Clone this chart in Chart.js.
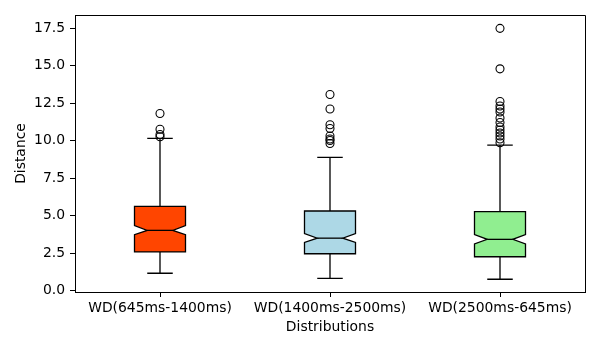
<!DOCTYPE html>
<html>
<head>
<meta charset="utf-8">
<script src="https://cdn.jsdelivr.net/npm/chart.js@4"></script>
<style>
  html, body { margin: 0; padding: 0; background: #ffffff; }
  canvas { display: block; }
</style>
</head>
<body>
<canvas id="chart" width="600" height="350"></canvas>
<script>
// Categories and per-group box statistics
const categories = ['WD(645ms-1400ms)', 'WD(1400ms-2500ms)', 'WD(2500ms-645ms)'];
const whiskerLow  = [1.15, 0.81, 0.75];
const q1          = [2.57, 2.45, 2.25];
const notchLow    = [3.72, 3.21, 3.10];
const median      = [4.01, 3.49, 3.41];
const notchHigh   = [4.33, 3.80, 3.73];
const q3          = [5.61, 5.30, 5.26];
const whiskerHigh = [10.15, 8.88, 9.70];
const outliers = [
  [11.80, 10.75, 10.40, 10.25],
  [13.07, 12.10, 11.05, 10.80, 10.30, 10.10, 10.00, 9.80],
  [17.48, 14.78, 12.60, 12.30, 12.10, 11.90, 11.50, 11.20, 10.90, 10.70, 10.50, 10.30, 10.10, 9.85]
];
const fillColors = ['#ff4500', '#add8e6', '#90ee90'];
const yTicks = [0, 2.5, 5, 7.5, 10, 12.5, 15, 17.5];

const FONT = { family: 'DejaVu Sans', size: 13.9 };
const BOX_WIDTH = 0.3;
const LINE_W = 1.3;

const flierPoints = [];
outliers.forEach((vals, i) => vals.forEach(v => flierPoints.push({ x: i + 1, y: v })));

// Notched boxes, whiskers and caps drawn through the chart scales
const boxPlotPlugin = {
  id: 'boxPlot',
  beforeDatasetsDraw(chart) {
    const { ctx, scales: { x, y } } = chart;
    ctx.save();
    ctx.lineWidth = LINE_W;
    ctx.strokeStyle = '#000000';
    ctx.lineJoin = 'miter';
    categories.forEach((_, i) => {
      const pos = i + 1;
      const bl = x.getPixelForValue(pos - BOX_WIDTH / 2);
      const br = x.getPixelForValue(pos + BOX_WIDTH / 2);
      const nl = x.getPixelForValue(pos - BOX_WIDTH / 4);
      const nr = x.getPixelForValue(pos + BOX_WIDTH / 4);
      const cx = x.getPixelForValue(pos);
      const cl = x.getPixelForValue(pos - BOX_WIDTH / 4);
      const cr = x.getPixelForValue(pos + BOX_WIDTH / 4);
      const py = v => y.getPixelForValue(v);

      // whiskers
      ctx.beginPath();
      ctx.moveTo(cx, py(q1[i])); ctx.lineTo(cx, py(whiskerLow[i]));
      ctx.moveTo(cx, py(q3[i])); ctx.lineTo(cx, py(whiskerHigh[i]));
      // caps
      ctx.moveTo(cl, py(whiskerLow[i])); ctx.lineTo(cr, py(whiskerLow[i]));
      ctx.moveTo(cl, py(whiskerHigh[i])); ctx.lineTo(cr, py(whiskerHigh[i]));
      ctx.stroke();

      // notched box
      ctx.beginPath();
      ctx.moveTo(bl, py(q1[i]));
      ctx.lineTo(br, py(q1[i]));
      ctx.lineTo(br, py(notchLow[i]));
      ctx.lineTo(nr, py(median[i]));
      ctx.lineTo(br, py(notchHigh[i]));
      ctx.lineTo(br, py(q3[i]));
      ctx.lineTo(bl, py(q3[i]));
      ctx.lineTo(bl, py(notchHigh[i]));
      ctx.lineTo(nl, py(median[i]));
      ctx.lineTo(bl, py(notchLow[i]));
      ctx.closePath();
      ctx.fillStyle = fillColors[i];
      ctx.fill();
      ctx.stroke();

      // median
      ctx.beginPath();
      ctx.moveTo(nl, py(median[i]));
      ctx.lineTo(nr, py(median[i]));
      ctx.stroke();
    });
    ctx.restore();
  },
  afterDraw(chart) {
    // top and right frame lines
    const { ctx, chartArea: a } = chart;
    ctx.save();
    ctx.strokeStyle = '#000000';
    ctx.lineWidth = 1;
    ctx.beginPath();
    ctx.moveTo(Math.round(a.left) + 0.5, Math.round(a.top) + 0.5);
    ctx.lineTo(Math.round(a.right) + 0.5, Math.round(a.top) + 0.5);
    ctx.lineTo(Math.round(a.right) + 0.5, Math.round(a.bottom) + 0.5);
    ctx.stroke();
    ctx.restore();
  }
};

new Chart(document.getElementById('chart'), {
  type: 'scatter',
  data: {
    datasets: [{
      data: flierPoints,
      pointStyle: 'circle',
      pointRadius: 4,
      pointHoverRadius: 4,
      borderColor: '#000000',
      backgroundColor: 'rgba(0,0,0,0)',
      borderWidth: 1.1
    }]
  },
  options: {
    responsive: false,
    animation: false,
    events: [],
    layout: { padding: { left: 0, top: 15, right: 15, bottom: 0 } },
    plugins: { legend: { display: false }, tooltip: { enabled: false } },
    scales: {
      x: {
        type: 'linear',
        min: 0.5,
        max: 3.5,
        afterFit(scale) { scale.height = 58; },
        afterBuildTicks(scale) { scale.ticks = categories.map((_, i) => ({ value: i + 1 })); },
        ticks: {
          color: '#000000',
          font: FONT,
          padding: 3,
          maxRotation: 0,
          autoSkip: false,
          callback: v => categories[Math.round(v) - 1]
        },
        grid: { drawOnChartArea: false, drawTicks: true, tickLength: 5, color: '#000000' },
        border: { display: true, color: '#000000', width: 1 },
        title: { display: true, text: 'Distributions', color: '#000000', font: FONT, padding: { top: 0, bottom: 14 } }
      },
      y: {
        type: 'linear',
        min: -0.1,
        max: 18.37,
        afterFit(scale) { scale.width = 75; },
        afterBuildTicks(scale) { scale.ticks = yTicks.map(v => ({ value: v })); },
        ticks: {
          color: '#000000',
          font: FONT,
          padding: 5,
          callback: v => v.toFixed(1)
        },
        grid: { drawOnChartArea: false, drawTicks: true, tickLength: 5, color: '#000000' },
        border: { display: true, color: '#000000', width: 1 },
        title: { display: true, text: 'Distance', color: '#000000', font: FONT, padding: { top: 13, bottom: 0 } }
      }
    }
  },
  plugins: [boxPlotPlugin]
});
</script>
</body>
</html>
